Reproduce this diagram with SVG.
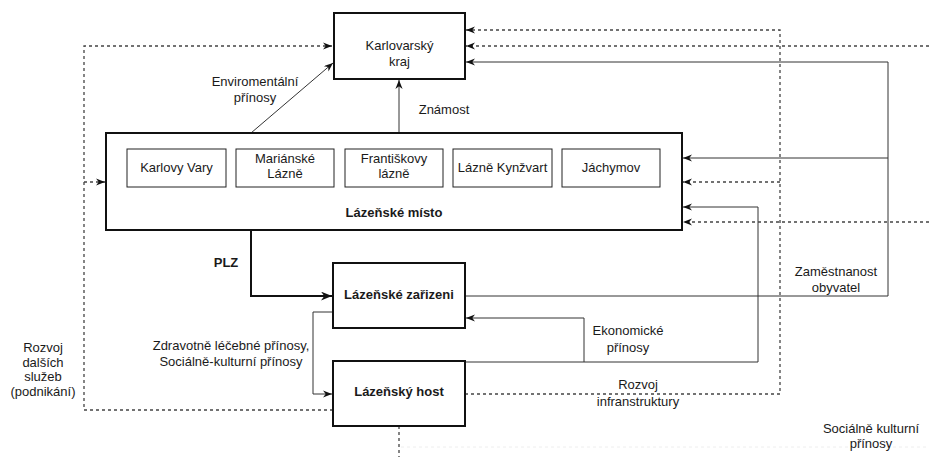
<svg xmlns="http://www.w3.org/2000/svg" width="929" height="457" viewBox="0 0 929 457">
<style>
text{font-family:"Liberation Sans",Arial,sans-serif;font-size:13px;fill:#1a1a1a;text-anchor:middle}
.b{font-weight:bold}
.node{fill:#fff;stroke:#111;stroke-width:2}
.sub{fill:#fff;stroke:#222;stroke-width:1}
.e{fill:none;stroke:#333;stroke-width:1}
.thick{fill:none;stroke:#111;stroke-width:2}
.d{fill:none;stroke:#444;stroke-width:1.3;stroke-dasharray:3 3}
.faint{fill:none;stroke:#eee;stroke-width:1;stroke-dasharray:3 3}
</style>
<defs>
<marker id="a" viewBox="0 0 10 8" refX="10" refY="4" markerWidth="9" markerHeight="7.2" markerUnits="userSpaceOnUse" orient="auto">
<path d="M0,0 L10,4 L0,8 L3,4 z" fill="#111"/>
</marker>
<marker id="ab" viewBox="0 0 10 8" refX="10" refY="4" markerWidth="11" markerHeight="9" markerUnits="userSpaceOnUse" orient="auto">
<path d="M0,0 L10,4 L0,8 L3,4 z" fill="#111"/>
</marker>
</defs>
<rect width="929" height="457" fill="#fff"/>

<g id="connectors">
<path class="e" d="M251,133 L333,63" marker-end="url(#a)"/>
<path class="e" d="M399,133 L399,80" marker-end="url(#a)"/>
<path class="thick" d="M251,231 L251,296 L332,296" marker-end="url(#ab)"/>
<path class="e" d="M333,312 L313,312 L313,394 L332,394" marker-end="url(#a)"/>
<path class="e" d="M465,362 L758,362 L758,207 L683,207" marker-end="url(#a)"/>
<path class="e" d="M584,362 L584,318 L466,318" marker-end="url(#a)"/>
<path class="e" d="M465,296 L888,296 L888,62 L466,62" marker-end="url(#a)"/>
<path class="e" d="M888,158 L683,158" marker-end="url(#a)"/>
<path class="d" d="M465,394 L780,394 L780,30 L466,30" marker-end="url(#a)"/>
<path class="d" d="M780,182 L683,182" marker-end="url(#a)"/>
<path class="d" d="M399,426 L399,457"/>
<path class="faint" d="M401,447 L929,447"/>
<path class="d" d="M929,46 L466,46" marker-end="url(#a)"/>
<path class="d" d="M929,222 L683,222" marker-end="url(#a)"/>
<path class="d" d="M333,410 L84,410 L84,46 L332,46" marker-end="url(#a)"/>
<path class="d" d="M84,182 L105,182" marker-end="url(#a)"/>
<text x="255" y="85.5">Enviromentální</text>
<text x="255" y="101.5">přínosy</text>
<text x="444" y="113.5">Známost</text>
<text class="b" x="226" y="266.5">PLZ</text>
<text x="231" y="349.5">Zdravotně léčebné přínosy,</text>
<text x="231" y="365.5">Sociálně-kulturní přínosy</text>
<text x="628" y="334.5">Ekonomické</text>
<text x="628" y="351.5">přínosy</text>
<text x="836" y="275.5">Zaměstnanost</text>
<text x="836" y="291.5">obyvatel</text>
<text x="638" y="388.5">Rozvoj</text>
<text x="638" y="405.5">infranstruktury</text>
<text x="871" y="432.5">Sociálně kulturní</text>
<text x="871" y="447.5">přínosy</text>
<text x="43" y="352">Rozvoj</text>
<text x="43" y="366.5">dalších</text>
<text x="43" y="381">služeb</text>
<text x="43" y="395.5">(podnikání)</text>
</g>

<g id="kraj">
<rect class="node" x="334" y="13" width="131" height="66"/>
<text x="399.5" y="49.5">Karlovarský</text>
<text x="399.5" y="65.5">kraj</text>
</g>

<g id="lazenske-misto">
<rect class="node" x="106" y="133" width="576" height="97"/>
<text class="b" x="394" y="216.5">Lázeňské místo</text>
</g>
<g id="karlovy-vary">
<rect class="sub" x="127" y="149" width="99" height="38"/>
<text x="176.5" y="171.5">Karlovy Vary</text>
</g>
<g id="marianske-lazne">
<rect class="sub" x="236" y="149" width="98" height="38"/>
<text x="285" y="163">Mariánské</text>
<text x="285" y="178">Lázně</text>
</g>
<g id="frantiskovy-lazne">
<rect class="sub" x="345" y="149" width="98" height="38"/>
<text x="394" y="163">Františkovy</text>
<text x="394" y="178">lázně</text>
</g>
<g id="lazne-kynzvart">
<rect class="sub" x="453" y="149" width="99" height="38"/>
<text x="502.5" y="171.5">Lázně Kynžvart</text>
</g>
<g id="jachymov">
<rect class="sub" x="562" y="149" width="98" height="38"/>
<text x="611" y="171.5">Jáchymov</text>
</g>

<g id="lazenske-zarizeni">
<rect class="node" x="333" y="263" width="132" height="65"/>
<text class="b" x="399" y="298.5">Lázeňské zařizeni</text>
</g>

<g id="lazensky-host">
<rect class="node" x="333" y="361" width="132" height="65"/>
<text class="b" x="399" y="396">Lázeňský host</text>
</g>
</svg>
